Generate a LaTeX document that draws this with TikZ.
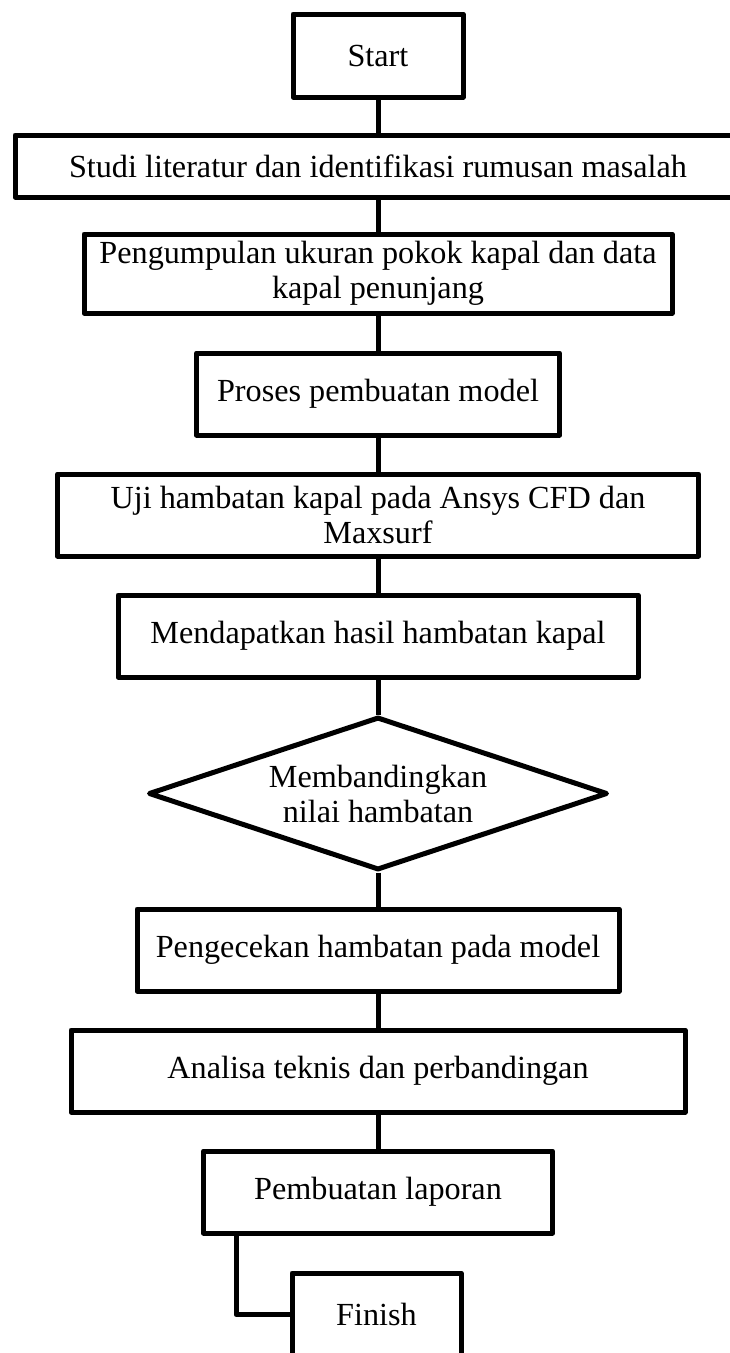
\documentclass[tikz,border=0pt]{standalone}
\usepackage{fontspec}
\setmainfont{Liberation Serif}
\usetikzlibrary{shapes.geometric}
\begin{document}
\begin{tikzpicture}[x=1pt,y=-1pt,
  txt/.style={font=\fontsize{32.2}{35}\selectfont,align=center},
  box/.style={txt,draw,line width=5pt,line join=round,rectangle,inner sep=0pt},
  dec/.style={txt,draw,line width=5pt,line join=round,diamond,aspect=2.95,inner sep=0pt},
  conn/.style={draw,line width=5pt,line join=round}]
\useasboundingbox (0,0) rectangle (729,1353);
\node[box,minimum width=170pt,minimum height=83pt] (start) at (378,55.5) {Start};
\node[box,minimum width=726pt,minimum height=62pt] (studi) at (378,166) {Studi literatur dan identifikasi rumusan masalah};
\node[box,minimum width=588pt,minimum height=79pt] (kumpul) at (378,273.5) {Pengumpulan ukuran pokok kapal dan data\\kapal penunjang};
\node[box,minimum width=363pt,minimum height=82pt] (proses) at (378,394) {Proses pembuatan model};
\node[box,minimum width=641pt,minimum height=82pt] (uji) at (378,515) {Uji hambatan kapal pada Ansys CFD dan\\Maxsurf};
\node[box,minimum width=520pt,minimum height=82pt] (hasil) at (378,636) {Mendapatkan hasil hambatan kapal};
\node[dec,minimum width=459pt,minimum height=153pt] (banding) at (378,793.5) {Membandingkan\\nilai hambatan};
\node[box,minimum width=482pt,minimum height=82pt] (cek) at (378,950) {Pengecekan hambatan pada model};
\node[box,minimum width=614pt,minimum height=82pt] (analisa) at (378,1071) {Analisa teknis dan perbandingan};
\node[box,minimum width=349pt,minimum height=82pt] (lapor) at (378,1192) {Pembuatan laporan};
\node[box,minimum width=169pt,minimum height=83pt] (finish) at (376.5,1314.5) {Finish};
\draw[conn] (start.south) -- (studi.north);
\draw[conn] (studi.south) -- (kumpul.north);
\draw[conn] (kumpul.south) -- (proses.north);
\draw[conn] (proses.south) -- (uji.north);
\draw[conn] (uji.south) -- (hasil.north);
\draw[conn] (hasil.south) -- (banding.north);
\draw[conn] (banding.south) -- (cek.north);
\draw[conn] (cek.south) -- (analisa.north);
\draw[conn] (analisa.south) -- (lapor.north);
\draw[conn] ([xshift=35pt]lapor.south west) |- (finish.west);
\end{tikzpicture}
\end{document}
